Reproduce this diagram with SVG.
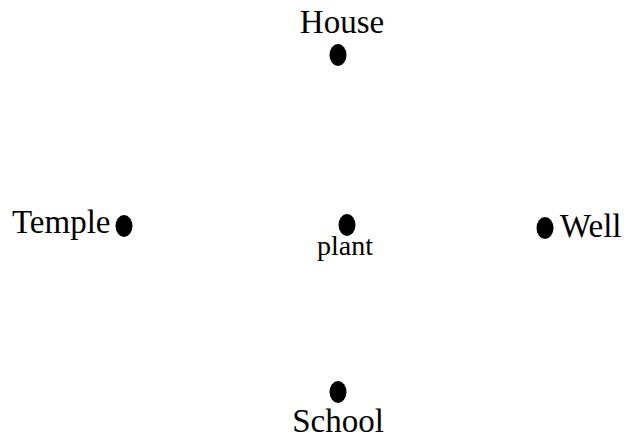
<svg xmlns="http://www.w3.org/2000/svg" width="628" height="439" viewBox="0 0 628 439">
<style>
.dot{fill:#000}
.lbl{font-family:"Liberation Serif","Times New Roman",serif;font-size:33px;fill:#000}
.sm{font-size:28px}
</style>
<rect width="628" height="439" fill="#fff"/>
<g id="house"><ellipse class="dot" cx="338" cy="55" rx="8.5" ry="11"/><text class="lbl" x="342" y="33" text-anchor="middle">House</text></g>
<g id="temple"><ellipse class="dot" cx="124" cy="226" rx="8.5" ry="11"/><text class="lbl" x="12" y="233">Temple</text></g>
<g id="plant"><ellipse class="dot" cx="347" cy="225" rx="8.5" ry="11"/><text class="lbl sm" x="345" y="255" text-anchor="middle">plant</text></g>
<g id="well"><ellipse class="dot" cx="545" cy="228" rx="8.5" ry="11"/><text class="lbl" x="560" y="237">Well</text></g>
<g id="school"><ellipse class="dot" cx="338" cy="392" rx="8.5" ry="11"/><text class="lbl" x="338" y="432" text-anchor="middle">School</text></g>
<g id="connectors"/>
</svg>
